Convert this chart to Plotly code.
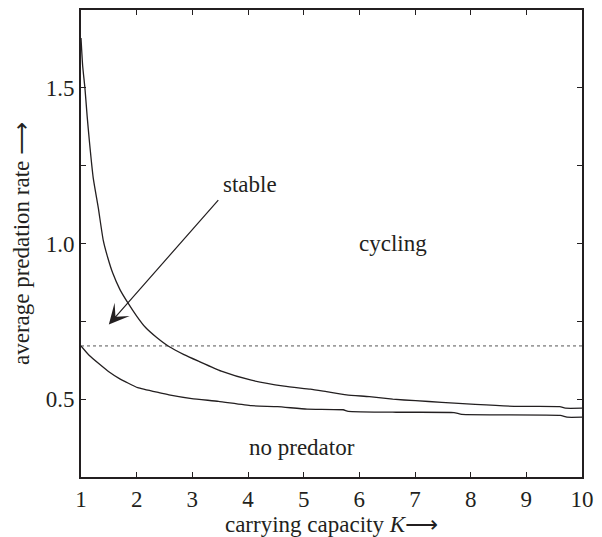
import plotly.graph_objects as go

# carrying capacity K and average predation rate (upper curve: stable/cycling boundary)
k_upper = [1.0, 1.03, 1.07, 1.11, 1.15, 1.22, 1.31, 1.40, 1.48, 1.57, 1.70, 1.84, 2.0, 2.16, 2.36, 2.58,
           2.85, 3.11, 3.52, 4.06, 4.65, 5.12, 5.41, 5.77, 6.18, 6.60, 7.01, 7.48, 8.08, 8.78,
           9.60, 9.70, 10.0]
rate_upper = [1.66, 1.57, 1.50, 1.41, 1.33, 1.21, 1.115, 1.01, 0.955, 0.905, 0.852, 0.81, 0.767,
              0.73, 0.698, 0.669, 0.643, 0.622, 0.590, 0.561, 0.542, 0.532, 0.524, 0.514, 0.508,
              0.500, 0.495, 0.490, 0.483, 0.477, 0.476, 0.471, 0.471]

# lower curve: no predator boundary
k_lower = [1.0, 1.15, 1.34, 1.50, 1.69, 2.02, 2.40, 2.58, 2.99, 3.47, 4.06, 4.53, 5.06, 5.71,
           5.80, 6.66, 7.70, 7.84, 9.61, 9.73, 10.0]
rate_lower = [0.671, 0.64, 0.611, 0.588, 0.566, 0.537, 0.521, 0.514, 0.502, 0.493, 0.479,
              0.476, 0.468, 0.466, 0.461, 0.458, 0.457, 0.451, 0.448, 0.442, 0.442]

# horizontal dotted reference level
k_ref = [1.0, 10.0]
rate_ref = [0.671, 0.671]

x_ticks = [1, 2, 3, 4, 5, 6, 7, 8, 9, 10]
y_ticks = [0.5, 0.75, 1.0, 1.25, 1.5]
y_ticktext = ["0.5", "", "1.0", "", "1.5"]

labels = ["stable", "cycling", "no predator"]
label_k = [4.03, 6.60, 4.97]
label_rate = [1.19, 1.0, 0.345]

arrow_tail = (3.49, 1.144)
arrow_head = (1.50, 0.740)

FONT = "Liberation Serif, Times New Roman, serif"
INK = "#231f20"
ARROW = '<span style="font-family:DejaVu Sans">\u27f6</span>'

fig = go.Figure()
fig.add_trace(go.Scatter(x=k_ref, y=rate_ref, mode="lines",
                         line=dict(color="#555555", width=1, dash="dot"),
                         showlegend=False, hoverinfo="skip"))
fig.add_trace(go.Scatter(x=k_upper, y=rate_upper, mode="lines",
                         line=dict(color=INK, width=1.3, shape="spline", smoothing=0.5),
                         showlegend=False))
fig.add_trace(go.Scatter(x=k_lower, y=rate_lower, mode="lines",
                         line=dict(color=INK, width=1.3, shape="spline", smoothing=0.4),
                         showlegend=False))

for t, xk, yr in zip(labels, label_k, label_rate):
    fig.add_annotation(x=xk, y=yr, text=t, showarrow=False,
                       font=dict(family=FONT, size=23, color=INK))

fig.add_annotation(x=arrow_head[0], y=arrow_head[1], ax=arrow_tail[0], ay=arrow_tail[1],
                   axref="x", ayref="y", xref="x", yref="y", text="",
                   showarrow=True, arrowhead=3, arrowsize=2.8, arrowwidth=1.2,
                   arrowcolor=INK, standoff=0)

axis_common = dict(showline=True, linewidth=1.8, linecolor=INK, mirror="allticks",
                   ticks="inside", ticklen=5, tickwidth=1.2, tickcolor=INK,
                   showgrid=False, zeroline=False,
                   tickfont=dict(family=FONT, size=23, color=INK))

fig.update_xaxes(range=[1, 10], tickvals=x_ticks,
                 title=dict(text="carrying capacity <i>K</i>" + ARROW, standoff=1,
                            font=dict(family=FONT, size=23, color=INK)),
                 **axis_common)
fig.update_yaxes(range=[0.25, 1.75], tickvals=y_ticks, ticktext=y_ticktext,
                 title=dict(text="average predation rate " + ARROW, standoff=10,
                            font=dict(family=FONT, size=23, color=INK)),
                 **axis_common)

fig.update_layout(width=602, height=537, paper_bgcolor="white", plot_bgcolor="white",
                  margin=dict(l=81, r=13, t=8, b=56))

fig.write_html("out.html")
